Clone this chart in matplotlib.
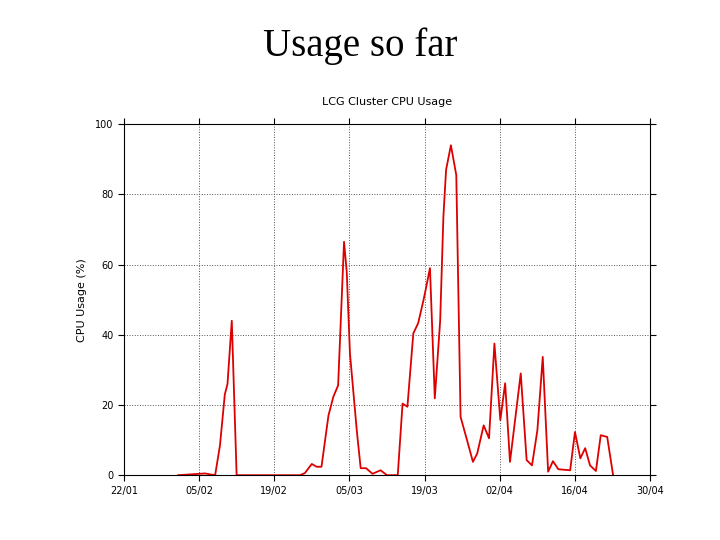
import matplotlib

matplotlib.use("Agg")

import matplotlib.pyplot as plt

# days since 22/01
days = [10.1, 15.1, 17.0, 17.9, 18.8, 19.3, 20.1, 21.0, 32.8, 33.7, 35.0, 35.9, 36.8,
        38.1, 39.0, 39.9, 41.0, 41.5, 42.1, 43.4, 44.1, 45.1, 46.3, 47.8, 49.0, 51.0,
        51.9, 52.8, 53.9, 54.8, 55.8, 56.3, 57.0, 57.9, 58.9, 59.5, 60.0, 60.9, 61.9,
        62.7, 63.9, 65.0, 65.8, 67.0, 68.0, 69.0, 70.1, 71.0, 71.9, 73.0, 73.9, 75.0,
        76.0, 77.0, 78.0, 79.0, 79.9, 80.9, 83.1, 84.0, 85.0, 85.9, 86.8, 87.9, 88.8,
        90.0, 91.1]
usage = [0, 0.5, 0, 8.5, 23, 26, 44, 0, 0, 0.6, 3.2, 2.4, 2.4,
         17, 22.3, 25.6, 66.5, 58, 34.7, 12.3, 2, 2, 0.4, 1.4, 0, 0,
         20.4, 19.5, 40.4, 43.3, 49.9, 53.6, 59, 21.9, 44, 73.6, 87, 94, 85.5,
         16.6, 10, 3.8, 6.2, 14.2, 10.5, 37.5, 15.7, 26.2, 3.8, 17.6, 29, 4.3,
         2.8, 12.8, 33.7, 1, 4, 1.7, 1.4, 12.3, 4.8, 7.7, 2.8, 1.2, 11.4,
         10.9, 0]
tick_days = [0, 14, 28, 42, 56, 70, 84, 98]
tick_labels = ["22/01", "05/02", "19/02", "05/03", "19/03", "02/04", "16/04", "30/04"]
y_ticks = [0, 20, 40, 60, 80, 100]

fig = plt.figure(figsize=(7.2, 5.4), dpi=100)
fig.text(0.5, 0.915, "Usage so far", ha="center", va="center",
         family="Liberation Serif", fontsize=28)
ax = fig.add_axes([0.172, 0.12, 0.731, 0.65])
ax.plot(days, usage, color="#dd0000", linewidth=1.3)
ax.set_xlim(0, 98)
ax.set_ylim(0, 100)
ax.set_xticks(tick_days)
ax.set_xticklabels(tick_labels)
ax.set_yticks(y_ticks)
ax.grid(True, color="#555555", linestyle=":", linewidth=0.7)
ax.tick_params(labelsize=7, direction="out", length=4, top=True, right=True)
ax.set_title("LCG Cluster CPU Usage", fontsize=8, pad=14)
ax.set_ylabel("CPU Usage (%)", fontsize=8, labelpad=6)

fig.savefig("out.png")
